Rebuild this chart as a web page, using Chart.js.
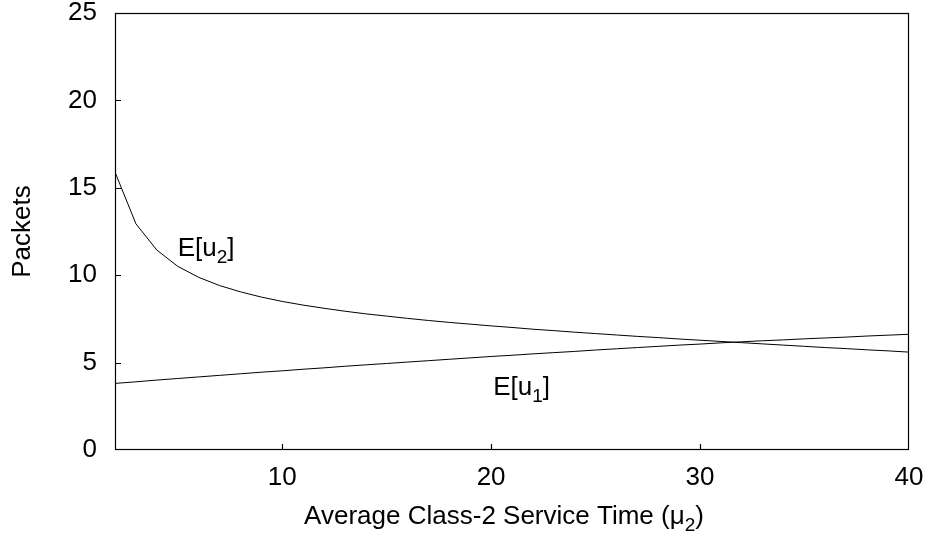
<!DOCTYPE html>
<html>
<head>
<meta charset="utf-8">
<script src="https://cdn.jsdelivr.net/npm/chart.js@4"></script>
<style>
  html, body { margin: 0; padding: 0; background: #fff; }
</style>
</head>
<body>
<canvas id="graficoLinha" width="932" height="541"></canvas>
<script>
// average class-2 service time (x) and the two expected queue sizes
const tempoServico = [2, 3, 4, 5, 6, 7, 8, 9, 10, 11, 12, 13, 14, 15, 16, 17, 18, 19, 20, 21,
  22, 23, 24, 25, 26, 27, 28, 29, 30, 31, 32, 33, 34, 35, 36, 37, 38, 39, 40];
const filaClasse1 = [3.81, 3.90, 4.00, 4.09, 4.18, 4.27, 4.36, 4.45, 4.53, 4.62, 4.70, 4.79, 4.87, 4.95,
  5.03, 5.11, 5.19, 5.27, 5.35, 5.42, 5.50, 5.57, 5.64, 5.72, 5.79, 5.86, 5.93, 6.00, 6.06, 6.13,
  6.19, 6.25, 6.30, 6.36, 6.41, 6.46, 6.52, 6.57, 6.62];
const filaClasse2 = [15.90, 12.94, 11.44, 10.51, 9.88, 9.41, 9.05, 8.75, 8.50, 8.29, 8.11, 7.94, 7.79,
  7.66, 7.53, 7.41, 7.30, 7.20, 7.10, 7.01, 6.91, 6.83, 6.74, 6.66, 6.58, 6.50, 6.43, 6.35, 6.28,
  6.21, 6.14, 6.07, 6.00, 5.93, 5.86, 5.80, 5.73, 5.67, 5.60];
const ticksX = [10, 20, 30, 40];
const ticksY = [0, 5, 10, 15, 20, 25];
const rotuloClasse1 = [['E[u', false], ['1', true], [']', false]];
const rotuloClasse2 = [['E[u', false], ['2', true], [']', false]];
const tituloX = [['Average Class-2 Service Time (\u03bc', false], ['2', true], [')', false]];

const familia = '"Liberation Sans", Arial, sans-serif';
const tamanhoFonte = 26;

function desenhaTexto(ctx, partes, x, y, alinhamento) {
  const fonteNormal = tamanhoFonte + 'px ' + familia;
  const fonteIndice = Math.round(tamanhoFonte * 0.72) + 'px ' + familia;
  let largura = 0;
  partes.forEach(([t, sub]) => {
    ctx.font = sub ? fonteIndice : fonteNormal;
    largura += ctx.measureText(t).width;
  });
  let cx = alinhamento === 'center' ? x - largura / 2 : x;
  ctx.textAlign = 'left';
  ctx.textBaseline = 'alphabetic';
  partes.forEach(([t, sub]) => {
    ctx.font = sub ? fonteIndice : fonteNormal;
    ctx.fillText(t, cx, sub ? y + tamanhoFonte * 0.28 : y);
    cx += ctx.measureText(t).width;
  });
}

const moldura = {
  id: 'moldura',
  afterDraw(chart) {
    const ctx = chart.ctx;
    const area = chart.chartArea;
    const escalaX = chart.scales.x;
    const escalaY = chart.scales.y;
    ctx.save();
    ctx.strokeStyle = '#000';
    ctx.lineWidth = 1.2;
    ctx.strokeRect(Math.round(area.left) + 0.5, Math.round(area.top) + 0.5,
      Math.round(area.right - area.left) - 1, Math.round(area.bottom - area.top) - 1);

    // tick marks pointing into the plot
    ctx.beginPath();
    ticksX.forEach(v => {
      const px = Math.round(escalaX.getPixelForValue(v)) + 0.5;
      if (px > area.right - 2) return;
      ctx.moveTo(px, area.bottom);
      ctx.lineTo(px, area.bottom - 6);
    });
    ticksY.forEach(v => {
      const py = Math.round(escalaY.getPixelForValue(v)) + 0.5;
      if (py > area.bottom - 2 || py < area.top + 2) return;
      ctx.moveTo(area.left, py);
      ctx.lineTo(area.left + 6, py);
    });
    ctx.stroke();

    ctx.fillStyle = '#000';
    desenhaTexto(ctx, rotuloClasse2, escalaX.getPixelForValue(5.0), escalaY.getPixelForValue(11.1), 'left');
    desenhaTexto(ctx, rotuloClasse1, escalaX.getPixelForValue(20.1), escalaY.getPixelForValue(3.15), 'left');
    desenhaTexto(ctx, tituloX, 504, 524, 'center');
    ctx.restore();
  }
};

function geraGrafico() {
  const canvaGrafico = document.getElementById('graficoLinha');

  new Chart(canvaGrafico, {
    type: 'line',
    data: {
      labels: tempoServico,
      datasets: [{
        label: 'E[u2]',
        data: filaClasse2,
        borderColor: '#000',
        borderWidth: 1,
        pointRadius: 0,
        fill: false
      }, {
        label: 'E[u1]',
        data: filaClasse1,
        borderColor: '#000',
        borderWidth: 1,
        pointRadius: 0,
        fill: false
      }]
    },
    options: {
      responsive: false,
      animation: false,
      layout: { padding: { left: 0, right: 23, top: 13, bottom: 0 } },
      plugins: { legend: { display: false }, tooltip: { enabled: false } },
      scales: {
        x: {
          type: 'linear',
          min: 2,
          max: 40,
          grid: { display: false, drawTicks: false },
          border: { display: false },
          afterBuildTicks: scale => { scale.ticks = ticksX.map(v => ({ value: v })); },
          afterFit: scale => { scale.height = 91; scale.paddingLeft = 0; scale.paddingRight = 0; },
          ticks: {
            padding: 12,
            maxRotation: 0,
            color: '#000',
            font: { family: familia, size: tamanhoFonte }
          }
        },
        y: {
          min: 0,
          max: 25,
          grid: { display: false, drawTicks: false },
          border: { display: false },
          afterBuildTicks: scale => { scale.ticks = ticksY.map(v => ({ value: v })); },
          afterFit: scale => { scale.width = 115; scale.paddingTop = 0; scale.paddingBottom = 0; },
          ticks: {
            padding: 18,
            color: '#000',
            font: { family: familia, size: tamanhoFonte }
          },
          title: {
            display: true,
            text: 'Packets',
            color: '#000',
            padding: { top: 7, bottom: 0 },
            font: { family: familia, size: tamanhoFonte }
          }
        }
      }
    },
    plugins: [moldura]
  });
}

geraGrafico();
</script>
</body>
</html>
